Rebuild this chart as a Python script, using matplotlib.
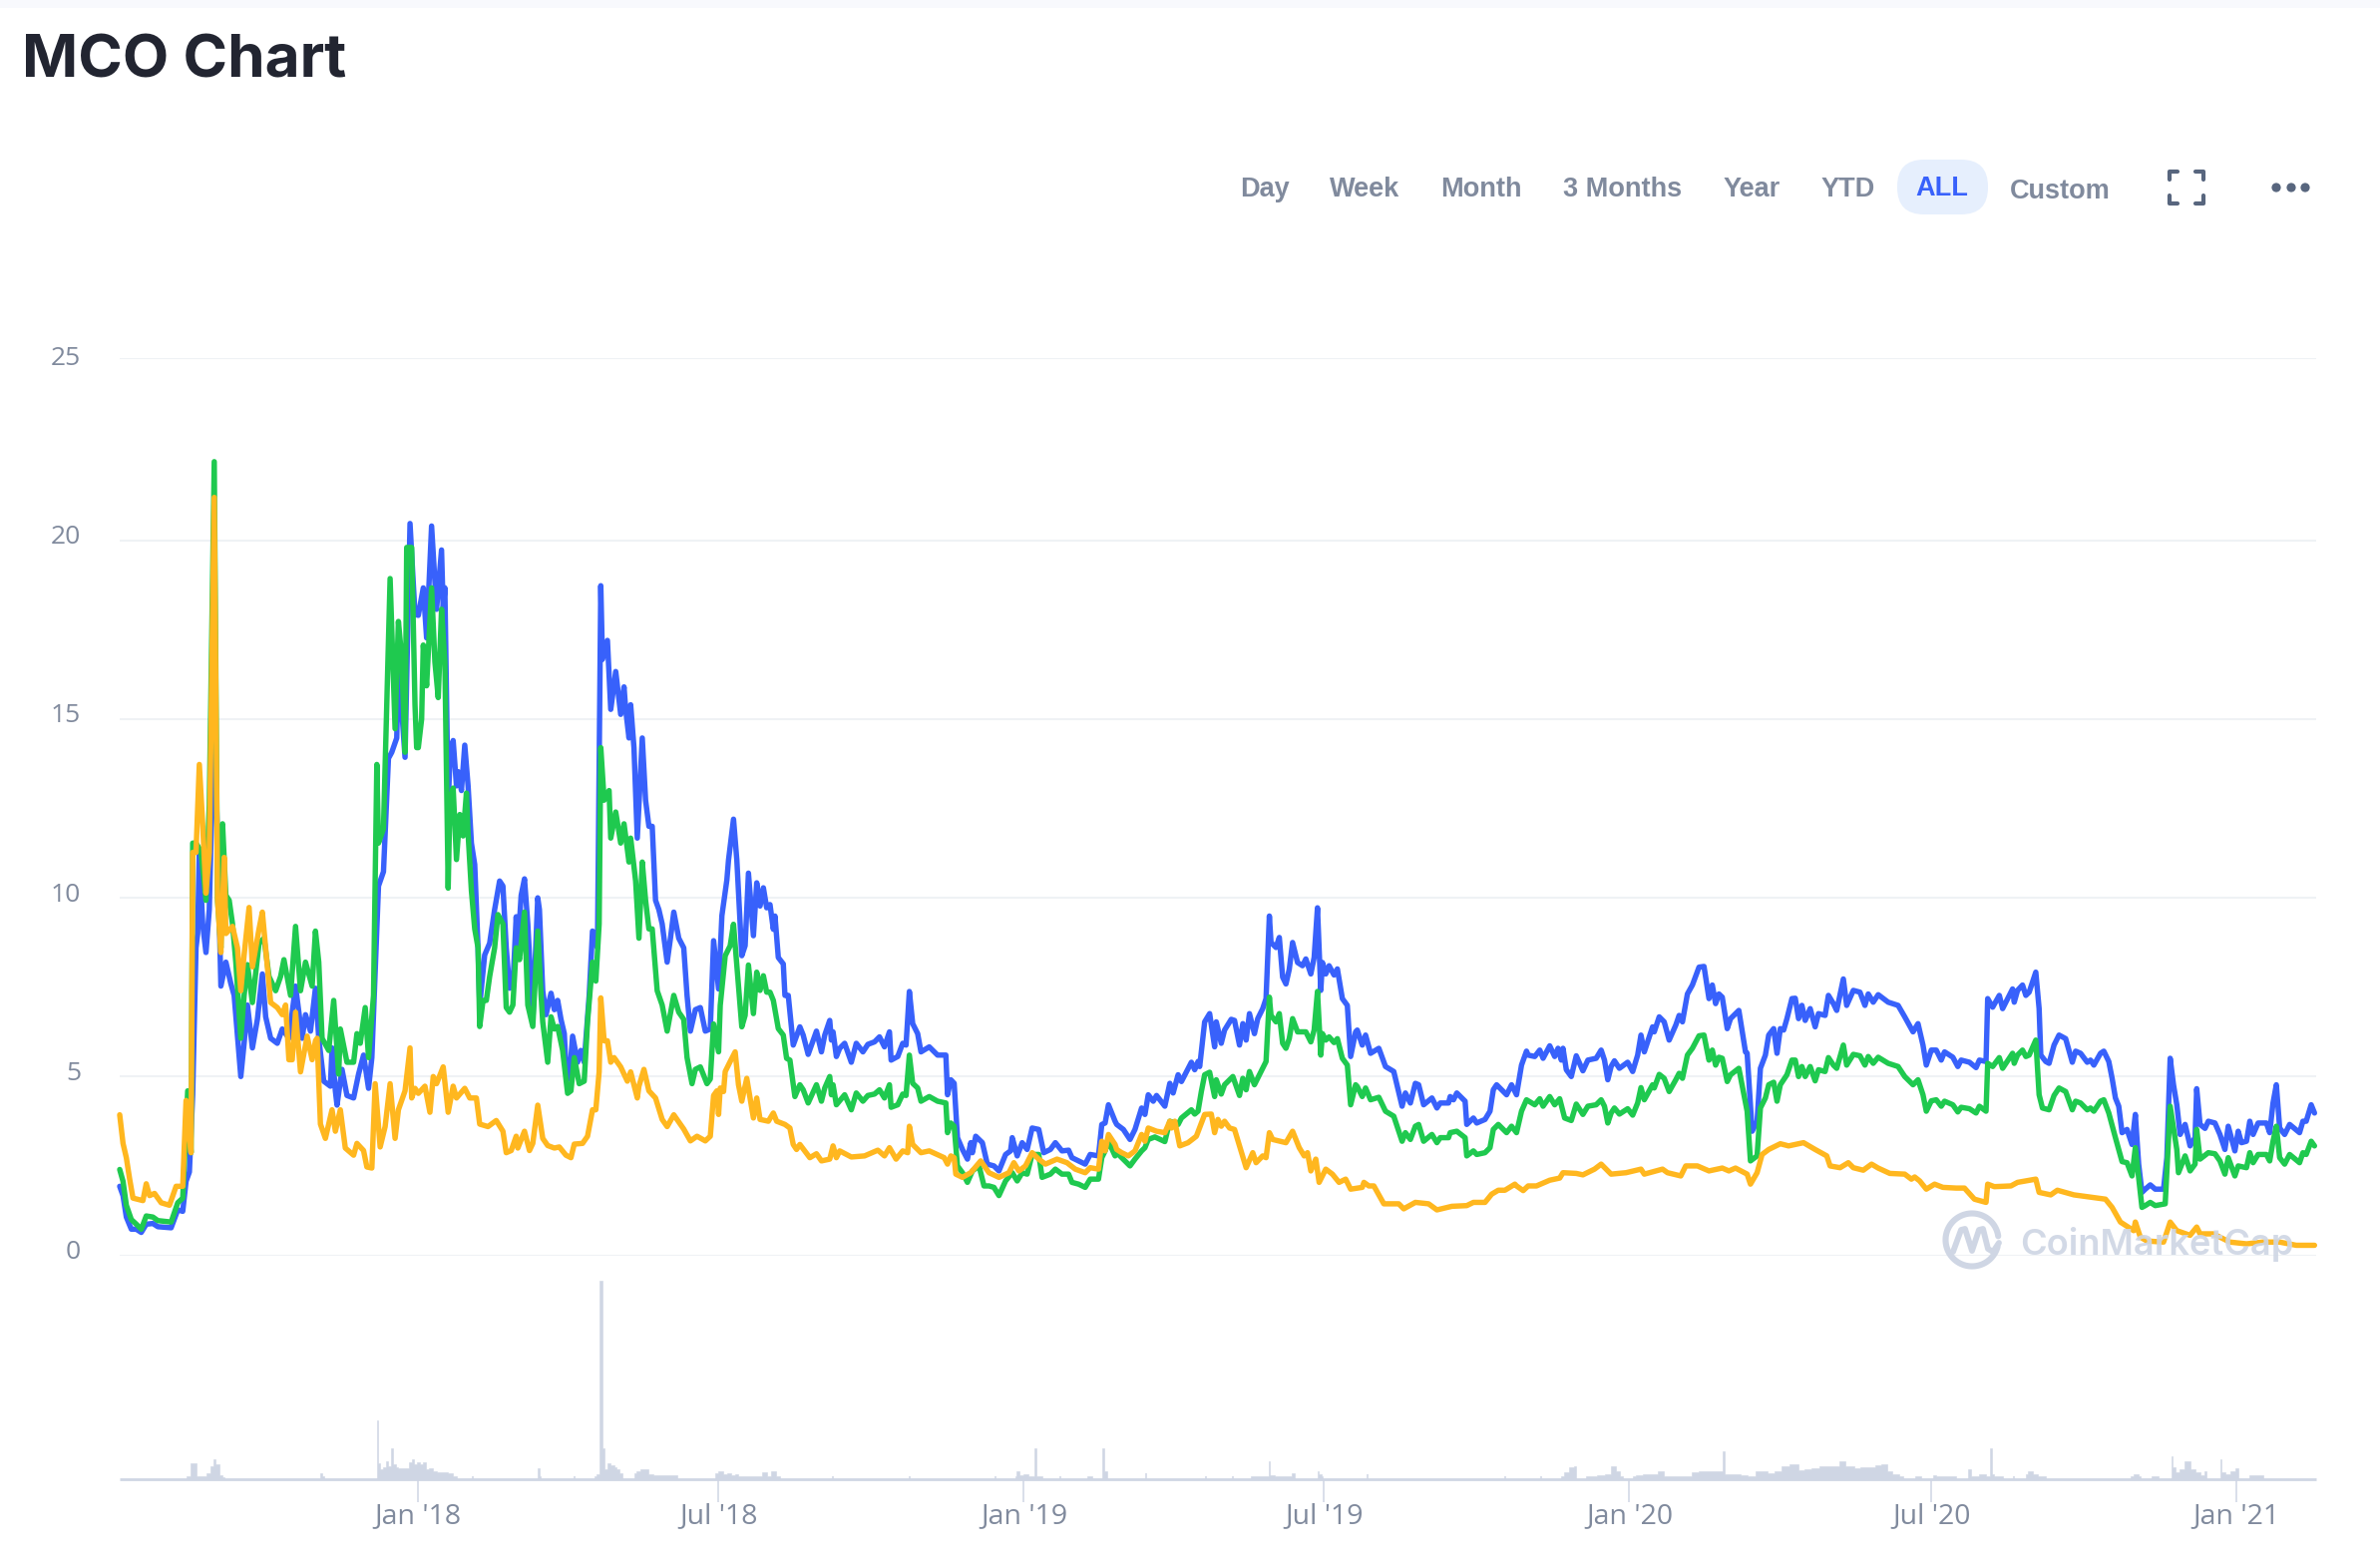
import datetime as dt
import matplotlib
matplotlib.use("Agg")
import matplotlib.pyplot as plt
import matplotlib.dates as mdates
from matplotlib.patches import FancyBboxPatch, Circle, Rectangle
import numpy as np

# ---------- data (days since first sample, value) ----------
START = dt.date(2017, 7, 5)
LAST_DAY = 1324

blue_day = [0,2,4,7,10,13,16,20,23,31,35,38,40,42,44,46,47,48,50,52,54,57,61,64,65,67,69,73,75,77,80,83,86,88,91,95,98,102,106,110,112,115,118,120,123,127,128,130,131,134,137,141,144,147,150,152,156,159,162,164,167,168,172,175,178,180,183,185,188,191,194,195,196,198,199,201,203,204,206,208,210,212,214,216,217,220,223,226,229,231,233,235,237,239,240,242,244,246,249,252,253,255,257,260,262,264,266,268,269,271,273,276,278,280,283,285,288,290,291,294,296,299,302,304,305,307,308,310,312,315,317,319,321,323,325,327,330,332,334,337,340,342,344,347,350,353,356,358,
361,363,366,367,370,372,375,377,379,382,384,386,388,390,392,394,395,397,400,401,403,406,410,412,415,420,423,425,428,429,430,432,434,437,441,444,448,451,455,458,461,464,465,469,472,474,476,478,481,483,488,493,498,499,501,503,505,508,511,513,514,516,520,523,527,530,534,537,538,541,544,547,550,554,557,561,564,568,572,574,578,582,585,590,592,594,596,600,
601,605,609,612,616,618,620,623,625,630,633,635,638,640,646,648,650,651,654,657,660,661,664,666,670,672,675,677,679,681,684,686,689,691,693,694,697,699,701,703,705,707,710,713,715,718,720,722,724,725,727,729,732,734,737,740,742,745,746,749,751,754,759,763,768,773,775,778,781,783,786,791,794,796,801,802,804,806,811,812,816,818,823,826,828,830,836,839,
842,845,848,849,853,856,858,862,865,867,869,870,872,875,878,882,885,890,893,895,897,899,901,904,909,912,915,917,919,924,925,928,931,934,938,940,942,945,948,952,955,958,960,962,964,966,969,971,976,980,981,984,987,989,992,994,997,999,1001,1003,1005,1008,1010,1012,1014,1016,1019,1022,1024,1028,1030,1033,1035,1039,1041,1045,1049,1052,1054,1057,1060,1066,1072,1076,1081,
1084,1087,1089,1092,1095,1098,1100,1105,1108,1110,1115,1119,1121,1125,1126,1129,1133,1135,1141,1142,1144,1147,1149,1151,1155,1157,1158,1161,1163,1166,1169,1173,1177,1179,1182,1186,1188,1190,1194,1196,1199,1201,1203,1205,1207,1210,1213,1215,1217,1219,1221,1224,1227,1232,1234,1236,1238,1240,1242,1245,1248,1251,1252,1254,1257,1259,1263,1266,1269,1271,1275,1277,1279,1282,1284,1286,1289,1294,1296,1298,1300,1302,1305,1308,1314,1316,1318,1321,1323]
blue_val = [1.93,1.67,1.07,.73,.73,.64,.87,.89,.8,.77,1.27,1.23,2.07,2.33,4.5,8.6,9.0,11.3,9.27,8.47,9.67,15.4,7.53,8.2,8.0,7.6,7.27,5.0,5.93,7.0,5.8,6.6,7.87,6.67,6.07,5.93,6.33,6.07,7.53,6.07,6.73,6.27,7.47,6.07,4.87,4.73,5.8,4.6,4.2,5.2,4.47,4.4,5.07,5.6,4.67,5.53,10.33,10.73,13.9,14.07,14.47,16.6,13.93,20.47,17.93,17.9,18.67,17.27,20.4,18.07,19.73,18.07,18.67,12.6,13.8,14.4,13.13,13.53,13.0,14.27,13.13,11.53,10.93,8.6,7.0,8.4,8.73,9.67,10.47,10.33,8.6,7.47,7.53,9.47,8.6,10.07,10.53,9.27,6.6,10.0,9.67,7.4,6.73,7.33,6.87,7.13,6.6,6.2,5.27,4.93,6.13,5.4,5.73,5.4,7.27,9.07,8.6,18.73,16.67,17.2,15.27,16.33,15.13,15.9,15.27,14.47,15.4,14.2,11.67,14.47,12.73,12.0,12.0,9.93,9.67,9.27,8.2,8.87,9.6,8.87,8.6,7.27,6.27,6.87,6.93,6.27,6.33,8.8,
7.45,9.5,10.5,11.06,12.2,11.06,8.38,8.66,10.69,8.94,10.42,9.77,10.28,9.72,9.81,9.12,9.49,8.33,8.15,7.27,7.27,5.88,6.39,6.16,5.62,6.27,5.69,6.16,6.57,6.02,6.25,5.56,5.79,5.93,5.4,5.93,5.69,5.9,5.97,6.11,5.83,6.25,5.46,5.56,5.93,5.88,7.38,6.48,6.2,5.69,5.83,5.6,5.6,4.49,4.91,4.81,3.29,2.96,2.69,3.15,2.87,3.33,3.15,2.55,2.5,2.36,2.82,2.92,3.29,2.78,3.15,2.96,3.56,3.52,2.87,2.96,3.15,2.92,2.94,2.73,2.64,2.55,2.82,2.78,3.66,3.7,4.21,3.75,
3.66,3.52,3.24,3.52,4.12,3.94,4.49,4.31,4.47,4.17,4.81,4.54,5.05,4.86,5.4,5.19,5.42,5.28,6.53,6.76,5.83,6.53,5.93,6.3,6.6,6.57,5.88,6.48,6.02,6.76,6.2,6.62,6.9,7.18,9.49,8.75,8.61,8.89,7.78,7.59,8.0,8.75,8.19,8.1,8.29,7.87,8.33,9.72,7.41,8.19,7.87,8.1,7.84,8.01,7.18,6.99,5.56,6.25,6.3,5.88,6.16,5.65,5.79,5.28,5.14,4.17,4.54,4.26,4.81,4.77,4.21,4.4,4.12,4.26,4.26,4.44,4.35,4.54,4.31,3.66,3.84,3.7,3.8,4.03,4.63,4.77,4.49,4.77,
4.49,5.32,5.71,5.6,5.56,5.74,5.51,5.86,5.56,5.79,5.46,5.79,5.19,5.0,5.58,5.16,5.46,5.51,5.74,5.46,4.91,5.28,5.44,5.23,5.4,5.14,5.6,6.16,5.69,6.39,6.25,6.67,6.53,6.02,6.44,6.71,6.53,7.31,7.56,8.06,8.08,7.18,7.56,7.04,7.31,7.22,6.34,6.62,6.85,5.69,5.65,3.47,3.75,5.23,5.6,6.16,6.34,5.65,6.34,6.3,6.62,7.18,7.19,6.62,6.99,6.57,6.9,6.39,6.76,6.71,7.27,7.04,6.85,7.73,6.99,7.41,7.36,6.99,7.31,7.08,7.29,7.08,6.99,6.67,6.25,
6.48,5.88,5.32,5.74,5.74,5.46,5.69,5.54,5.28,5.46,5.4,5.25,5.46,5.42,7.18,6.94,7.27,6.9,7.45,7.08,7.41,7.56,7.27,7.36,7.92,6.9,5.6,5.42,5.37,5.88,6.16,6.06,5.4,5.71,5.65,5.4,5.46,5.32,5.65,5.71,5.42,4.95,4.4,4.17,3.43,3.52,3.1,3.94,2.55,1.76,1.85,1.97,1.85,1.85,2.73,5.51,4.77,4.21,3.38,3.66,3.06,3.29,4.66,3.66,3.55,3.75,3.7,3.38,2.96,3.61,2.92,3.47,3.15,3.19,3.75,3.38,3.7,3.7,3.43,4.26,4.77,3.56,3.38,3.66,3.43,3.75,3.75,4.21,3.98]

green_day = [0,2,4,7,10,13,16,20,23,31,35,38,41,43,44,46,49,52,54,57,59,61,62,64,66,68,70,73,75,77,80,84,87,90,94,97,99,103,106,109,112,116,118,120,122,126,129,132,133,137,141,143,145,148,150,153,155,156,159,163,166,168,170,172,173,176,178,179,
180,182,183,185,188,190,192,194,196,198,199,201,203,205,207,209,210,212,214,216,217,219,221,223,226,228,231,233,235,237,239,241,244,246,249,252,254,255,258,260,262,264,267,270,272,274,277,280,282,285,287,289,290,292,295,296,299,302,304,307,308,311,313,315,317,319,321,324,327,330,334,337,340,342,345,347,350,354,356,358,
361,362,365,368,370,373,375,377,379,382,384,386,388,390,392,394,397,400,402,404,407,410,412,415,420,423,425,428,429,430,432,437,441,444,448,451,455,458,461,464,465,469,472,474,476,478,481,483,488,493,498,499,501,503,505,508,511,514,518,521,524,527,530,534,538,541,544,547,550,554,556,561,564,568,572,574,578,582,585,590,592,594,596,600,
601,609,612,616,618,620,624,630,633,638,640,646,648,650,652,654,657,660,661,664,666,671,675,677,679,681,684,689,691,693,694,697,699,701,703,705,707,710,715,718,720,722,724,725,727,729,732,734,737,740,741,742,745,746,749,751,754,759,763,768,773,775,778,781,783,786,791,794,796,801,802,806,811,812,816,818,823,826,828,831,836,839,
842,845,848,853,856,858,862,865,868,871,875,878,882,885,890,893,895,897,899,901,904,909,912,915,917,919,924,925,928,931,934,938,940,942,945,948,952,955,958,960,962,964,966,969,971,976,980,981,983,987,989,992,994,997,999,1001,1005,1008,1010,1012,1014,1016,1019,1022,1024,1028,1030,1033,1035,1039,1041,1045,1049,1052,1054,1057,1060,1066,1072,1076,1081,
1084,1087,1089,1092,1095,1098,1100,1105,1108,1110,1115,1119,1121,1125,1126,1129,1133,1135,1141,1142,1144,1147,1149,1151,1155,1157,1159,1163,1166,1169,1173,1177,1179,1182,1186,1188,1190,1194,1196,1199,1203,1207,1210,1213,1215,1217,1219,1221,1224,1227,1233,1236,1238,1240,1241,1245,1248,1251,1252,1254,1259,1263,1266,1269,1271,1275,1277,1282,1284,1286,1289,1294,1296,1298,1300,1302,1305,1308,1314,1316,1318,1321,1323]
green_val = [2.4,2.07,1.4,1.0,.87,.73,1.1,1.07,.97,.93,1.47,1.6,4.6,2.87,11.53,11.53,11.3,9.93,12.6,22.2,9.93,8.6,12.07,10.07,9.93,9.27,8.2,6.07,7.27,8.13,7.07,8.73,8.87,7.8,7.4,7.8,8.27,7.27,9.2,7.4,8.2,7.53,9.07,8.2,6.07,5.73,7.13,5.07,6.33,5.4,5.4,6.2,5.93,6.93,5.53,7.27,13.73,11.53,11.93,18.93,14.73,17.73,16.73,14.07,19.8,19.8,15.4,14.2,
14.2,15.0,17.07,15.93,18.67,16.6,15.6,18.07,16.6,10.27,12.6,13.07,11.07,12.33,11.73,12.93,11.8,10.2,9.13,8.6,6.4,7.13,7.13,7.8,8.6,9.53,9.27,6.93,6.8,7.0,8.6,8.27,9.6,7.0,6.4,9.07,7.27,6.53,5.4,6.67,6.33,6.4,5.73,4.53,4.6,5.53,4.8,4.87,6.53,8.2,7.67,9.27,14.2,12.73,13.0,11.67,12.4,11.53,12.07,11.0,11.67,10.47,8.87,11.0,9.93,9.13,9.13,7.4,7.0,6.27,7.27,6.8,6.6,5.53,4.8,5.2,5.27,4.8,4.93,6.47,
5.69,6.99,8.38,8.66,9.26,7.55,6.39,6.71,8.12,6.76,7.92,7.41,7.82,7.36,7.36,7.13,6.34,6.16,5.51,5.46,4.44,4.77,4.63,4.26,4.77,4.31,4.68,5.0,4.49,4.77,4.21,4.49,4.07,4.54,4.31,4.47,4.51,4.63,4.4,4.77,4.14,4.21,4.51,4.47,5.6,4.81,4.68,4.31,4.44,4.31,4.26,3.43,3.7,3.61,2.5,2.31,2.04,2.36,2.5,1.94,1.94,1.9,1.67,2.08,2.31,2.08,2.31,2.27,2.82,2.82,2.18,2.27,2.41,2.27,2.27,2.04,1.99,1.9,2.13,2.13,2.73,2.92,3.19,2.78,
2.87,2.5,2.69,2.92,3.01,3.24,3.31,3.18,3.75,3.66,3.84,4.07,3.95,4.03,4.58,5.05,5.12,4.44,4.91,4.51,4.77,5.0,4.47,4.95,4.63,5.14,4.77,5.23,5.42,7.22,6.71,6.53,6.76,5.93,5.79,6.06,6.62,6.25,6.25,5.97,6.3,7.38,5.6,6.2,6.02,6.11,5.95,6.06,5.51,5.32,4.77,4.21,4.77,4.72,4.44,4.68,4.35,4.42,4.03,3.89,3.19,3.43,3.24,3.61,3.66,3.19,3.38,3.15,3.29,3.29,3.43,3.47,3.29,2.78,2.92,2.82,2.87,3.01,3.52,3.66,3.43,3.61,
3.43,4.03,4.35,4.21,4.38,4.17,4.44,4.21,4.38,3.84,3.77,4.23,3.94,4.17,4.21,4.35,4.17,3.7,3.98,4.12,3.95,4.1,3.92,4.26,4.69,4.35,4.77,4.68,5.06,4.95,4.58,4.91,5.09,4.95,5.6,5.79,6.14,6.16,5.46,5.74,5.32,5.54,5.51,4.86,5.05,5.23,4.26,4.03,2.64,2.78,4.12,4.4,4.77,4.84,4.31,4.77,5.05,5.46,5.46,5.0,5.28,5.0,5.28,4.88,5.19,5.14,5.53,5.32,5.23,5.88,5.32,5.62,5.58,5.32,5.56,5.37,5.54,5.37,5.28,5.0,4.77,
4.91,4.49,4.03,4.32,4.35,4.17,4.31,4.21,4.01,4.14,4.1,3.98,4.17,4.03,5.37,5.28,5.53,5.23,5.65,5.37,5.6,5.74,5.56,5.6,6.02,4.49,4.12,4.07,4.47,4.68,4.58,4.07,4.31,4.26,4.07,4.12,4.03,4.31,4.35,3.98,3.29,2.62,2.59,2.22,3.01,2.18,1.34,1.39,1.48,1.39,1.44,4.17,3.56,2.96,2.31,2.78,2.36,2.55,3.52,2.69,2.87,2.84,2.64,2.27,2.73,2.22,2.5,2.45,2.87,2.59,2.82,2.82,2.64,3.19,3.61,2.73,2.55,2.82,2.59,2.87,2.82,3.19,3.06]

orange_day = [0,2,4,6,8,14,16,18,21,25,30,34,38,40,43,44,46,48,50,52,54,57,59,61,63,64,68,71,73,75,78,80,84,86,88,91,95,98,100,102,104,106,109,113,116,118,119,121,124,128,130,133,136,141,143,147,149,152,154,157,160,163,166,168,172,175,176,178,
180,184,187,189,191,195,198,201,203,208,211,215,217,222,227,231,233,236,239,240,244,247,249,252,255,258,262,265,269,272,274,279,282,285,287,289,290,292,294,296,298,302,306,308,312,313,316,319,323,327,330,334,340,344,348,353,356,358,360,
361,362,364,365,368,371,373,375,378,382,384,386,391,394,396,401,404,406,408,410,416,420,423,428,430,432,434,441,449,457,461,464,468,472,475,476,478,483,488,497,499,501,503,504,508,513,519,524,530,536,539,542,546,550,554,558,565,571,576,582,585,590,592,594,596,600,
601,604,608,612,616,618,620,625,630,633,634,636,639,644,649,654,658,660,662,664,666,669,672,675,679,683,685,689,691,693,695,703,707,711,714,716,718,721,723,727,731,735,739,742,749,750,753,756,762,771,774,781,789,794,803,812,816,823,827,831,835,841,
842,846,849,854,862,868,870,878,882,889,893,899,908,917,919,930,933,941,944,951,958,966,970,974,981,983,987,990,994,1001,1006,1015,1022,1029,1031,1037,1042,1045,1051,1056,1060,1067,1076,1080,1082,
1085,1089,1094,1099,1107,1112,1118,1125,1126,1130,1140,1144,1155,1157,1164,1168,1178,1197,1201,1206,1214,1215,1218,1222,1232,1236,1240,1248,1252,1254,1262,1272,1282,1292,1302,1312,1323]
orange_val = [3.93,3.13,2.73,2.13,1.6,1.53,2.0,1.67,1.73,1.47,1.4,1.93,1.93,4.33,2.87,11.27,11.27,13.73,12.07,10.13,11.27,21.2,9.93,8.47,11.13,9.0,9.2,8.6,7.4,8.4,9.73,8.07,9.13,9.6,8.6,7.07,6.93,6.73,7.0,5.47,5.47,6.8,5.13,6.13,5.47,6.0,6.07,3.67,3.27,4.07,3.47,4.07,3.0,2.8,3.13,2.93,2.47,2.44,4.8,3.03,3.6,4.8,3.27,4.07,4.6,5.8,4.4,4.67,
4.53,4.73,4.0,5.0,4.8,5.27,4.0,4.73,4.4,4.67,4.4,4.4,3.67,3.6,3.77,3.47,2.87,2.93,3.33,3.0,3.47,2.93,3.13,4.2,3.27,3.07,3.0,3.03,2.8,2.73,3.11,3.13,3.33,4.07,4.07,5.13,7.2,6.0,6.0,5.4,5.53,5.27,4.87,5.13,4.4,4.73,5.2,4.6,4.4,3.8,3.6,3.93,3.53,3.2,3.33,3.2,3.33,4.47,4.6,
3.94,4.68,4.58,5.14,5.42,5.69,4.77,4.31,4.95,3.84,4.4,3.8,3.75,3.98,3.75,3.66,3.56,3.1,2.96,3.1,2.73,2.84,2.64,2.69,3.06,2.73,2.92,2.75,2.78,2.94,2.78,3.01,2.69,2.92,2.87,3.61,3.1,2.87,2.92,2.73,2.55,2.78,2.73,2.27,2.18,2.31,2.64,2.31,2.18,2.31,2.59,2.36,2.5,2.87,2.69,2.55,2.69,2.59,2.41,2.31,2.45,2.41,3.19,2.92,3.38,3.1,
2.96,2.87,2.78,2.92,3.38,3.19,3.56,3.47,3.43,3.75,3.56,3.75,3.06,3.15,3.33,3.94,3.95,3.43,3.8,3.61,3.75,3.56,3.52,3.06,2.45,2.87,2.59,2.78,2.73,3.43,3.24,3.15,3.47,3.01,2.78,2.87,2.36,2.69,2.04,2.41,2.27,2.04,2.13,1.85,1.9,2.04,1.94,1.94,1.44,1.44,1.3,1.48,1.44,1.27,1.37,1.39,1.48,1.48,1.71,1.82,1.82,1.99,
1.94,1.81,1.94,1.94,2.1,2.16,2.31,2.29,2.25,2.41,2.55,2.27,2.31,2.41,2.27,2.41,2.31,2.22,2.5,2.5,2.36,2.44,2.36,2.44,2.27,1.99,2.31,2.82,2.96,3.12,3.06,3.15,2.96,2.78,2.5,2.45,2.59,2.45,2.38,2.55,2.44,2.29,2.27,2.13,2.19,
2.08,1.85,1.99,1.9,1.88,1.88,1.57,1.48,1.99,1.92,1.94,2.04,2.13,1.76,1.69,1.82,1.69,1.57,1.34,.93,.69,.93,.51,.4,.37,.93,.69,.56,.79,.6,.6,.37,.32,.37,.37,.28,.28]

volume_day = [40,45,48,51,54,56,57,59,61,63,121,123,155,156,158,160,161,163,164,166,167,169,172,174,175,177,178,180,182,184,185,188,190,192,197,199,203,213,252,254,274,286,289,290,292,293,295,297,299,300,303,310,313,315,317,320,323,328,333,336,359,362,365,367,370,372,374,379,381,385,389,392,393,398,430,476,528,540,541,544,546,549,551,552,553,556,567,583,586,592,595,619,
655,671,682,686,690,692,693,694,695,697,702,705,708,722,724,725,752,835,857,869,872,875,878,884,888,893,897,901,903,906,912,916,920,925,929,932,936,941,945,950,954,959,963,966,967,968,970,975,979,984,988,991,995,1000,1004,1009,1011,1013,1018,1022,1027,1032,1034,1039,1041,1044,1047,1052,1057,1060,1064,1067,1070,1075,1082,1086,1093,1097,1102,1107,1114,1118,1123,1127,1128,1129,1131,1135,1142,1149,1152,1155,1158,1161,1212,1216,1218,1225,1229,1237,1238,1239,1240,1243,1246,1250,1253,1255,1258,1266,1268,1271,1274,1277,1284,1289,1292]
volume_val = [10,48,10,10,18,40,62,45,12,6,18,8,177,48,30,35,55,40,93,45,35,33,33,33,50,62,45,50,45,50,30,33,25,20,20,18,10,8,32,8,8,8,15,602,93,30,48,42,35,30,18,18,25,30,30,15,12,12,12,12,18,25,15,18,12,15,8,8,8,8,22,10,25,8,8,8,10,10,25,12,15,10,10,93,10,10,8,8,8,93,25,18,
8,8,8,10,8,8,55,12,12,10,10,8,18,25,15,8,15,8,8,10,20,35,40,10,10,12,15,40,25,8,8,12,15,15,25,10,10,10,10,20,25,25,25,25,85,15,15,15,12,10,25,25,18,25,40,45,45,28,30,32,40,40,38,55,40,40,32,35,35,42,45,25,15,10,8,8,12,8,8,10,30,10,15,10,93,15,8,8,10,15,25,15,10,8,10,15,10,8,8,70,35,35,20,30,55,30,20,12,25,62,20,15,25,32,12]

y_gridlines = [0, 5, 10, 15, 20, 25.1]
y_label_values = [0, 5, 10, 15, 20, 25]
x_tick_dates = [dt.date(2018,1,1), dt.date(2018,7,1), dt.date(2019,1,1), dt.date(2019,7,1),
                dt.date(2020,1,1), dt.date(2020,7,1), dt.date(2021,1,1)]
x_tick_labels = ["Jan '18", "Jul '18", "Jan '19", "Jul '19", "Jan '20", "Jul '20", "Jan '21"]
range_buttons = ["Day", "Week", "Month", "3 Months", "Year", "YTD", "ALL", "Custom"]
button_centers = [1268, 1368, 1485, 1627, 1756, 1853, 1947, 2065]
button_ys = [190, 190, 190, 190, 190, 190, 189, 192]

# ---------- layout ----------
W, H = 2386, 1570
BLUE, GREEN, ORANGE = "#3861FB", "#1FC94F", "#FFB71F"
GRID, VOLC, TICKC, BTN = "#EFF2F5", "#CFD6E4", "#808A9D", "#808A9D"
LW = 3.9

fig = plt.figure(figsize=(W/100, H/100), dpi=100, facecolor="white")

def rect(l, r, top, bottom):
    return [l/W, 1-bottom/H, (r-l)/W, (bottom-top)/H]

def to_dates(days):
    return [mdates.date2num(START) + d for d in days]

x0 = mdates.date2num(START)

ax = fig.add_axes(rect(120, 2322, 358.9, 1258.5))
ax.set_facecolor("none")
ax.set_xlim(x0, x0 + LAST_DAY)
ax.set_ylim(0, 25.1)
for s in ax.spines.values():
    s.set_visible(False)
ax.set_xticks([])
ax.set_yticks(y_gridlines)
ax.set_yticklabels([])
ax.tick_params(axis="y", length=0)
for v in y_label_values:
    ax.annotate(str(v), xy=(0, v), xycoords=("axes fraction", "data"),
                xytext=(-28, 2.2), textcoords="offset points",
                fontfamily="Open Sans", fontsize=19, color=TICKC, ha="right", va="center")
ax.grid(axis="y", color=GRID, lw=1.5)
ax.set_axisbelow(True)
kw = dict(lw=LW, solid_joinstyle="round", solid_capstyle="round", clip_on=False)
ax.plot(to_dates(blue_day), blue_val, color=BLUE, zorder=3, **kw)
ax.plot(to_dates(green_day), green_val, color=GREEN, zorder=4, **kw)
ax.plot(to_dates(orange_day), orange_val, color=ORANGE, zorder=5, **kw)

vax = fig.add_axes(rect(120, 2322, 1284, 1483))
vax.set_facecolor("none")
vax.set_xlim(x0, x0 + LAST_DAY)
vax.set_ylim(0, 602)
for s in vax.spines.values():
    s.set_visible(False)
vax.set_yticks([])
vax.set_xticks([mdates.date2num(d) for d in x_tick_dates])
vax.set_xticklabels(x_tick_labels, fontfamily="Open Sans", fontsize=20.5, color=TICKC)
vax.tick_params(axis="x", length=16.5, width=1.1, color=VOLC, pad=0)
vd = np.array(volume_day, float)
vv = np.array(volume_val, float)
breaks = np.where(np.diff(vd) > 5)[0] + 1
for dseg, vseg in zip(np.split(vd, breaks), np.split(vv, breaks)):
    if len(dseg) == 1:
        vax.vlines(to_dates(dseg), 0, vseg, color=VOLC, lw=1.1)
    else:
        vax.fill_between(to_dates(dseg), 0, vseg, step="mid", color=VOLC, lw=0.4)
vax.plot([0, 1], [0, 0], transform=vax.transAxes, color=VOLC, lw=2.0,
         solid_capstyle="butt", clip_on=False)

# ---------- overlay in pixel coordinates: title, buttons, watermark ----------
ov = fig.add_axes([0, 0, 1, 1])
ov.set_xlim(0, W)
ov.set_ylim(H, 0)
ov.axis("off")
ov.patch.set_alpha(0)

ov.add_patch(Rectangle((0, 0), W, 8, color="#F8F9FD", lw=0))
ov.text(22, 62, "MCO Chart", fontfamily="Inter", fontweight="bold", fontsize=43.4,
        color="#222531", va="center", ha="left")

ov.add_patch(FancyBboxPatch((1902+27, 160+27), 91-54, 55-54,
                            boxstyle="round,pad=27,rounding_size=27",
                            fc="#E6EFFD", ec="none"))
for lab, cx, cy in zip(range_buttons, button_centers, button_ys):
    ov.text(cx, cy, lab, fontfamily="Liberation Sans", fontweight="bold", fontsize=19.5,
            color=BLUE if lab == "ALL" else BTN, ha="center", va="center")

# full-screen icon
ic = "#58667E"
L, R, T, B, s = 2175, 2209, 172, 204, 8
for xs, ys in [([L, L, L+s], [T+s, T, T]), ([R-s, R, R], [T, T, T+s]),
               ([L, L, L+s], [B-s, B, B]), ([R-s, R, R], [B, B, B-s])]:
    ov.plot(xs, ys, color=ic, lw=3.0, solid_joinstyle="round", solid_capstyle="round")
for cx in (2282, 2297, 2311):
    ov.add_patch(Circle((cx, 188), 4.6, fc=ic, ec="none"))

# watermark
wm = VOLC
t = np.radians(np.linspace(15, 352, 120))
ov.plot(1977 + 26.5*np.cos(t), 1243 + 26.5*np.sin(t), color=wm, lw=4.4, solid_capstyle="round")
ov.plot([1958, 1966, 1970, 1977, 1984, 1988, 1993, 1998, 2004],
        [1255, 1233, 1232, 1254, 1233, 1232, 1252, 1255, 1246],
        color=wm, lw=4.2, solid_joinstyle="round", solid_capstyle="round")
ov.text(2025, 1258, "CoinMarketCap", fontfamily="Inter", fontweight="semibold", fontsize=26.1,
        color=wm, alpha=0.92, ha="left", va="baseline")

fig.savefig("out.png", dpi=100, facecolor="white")
